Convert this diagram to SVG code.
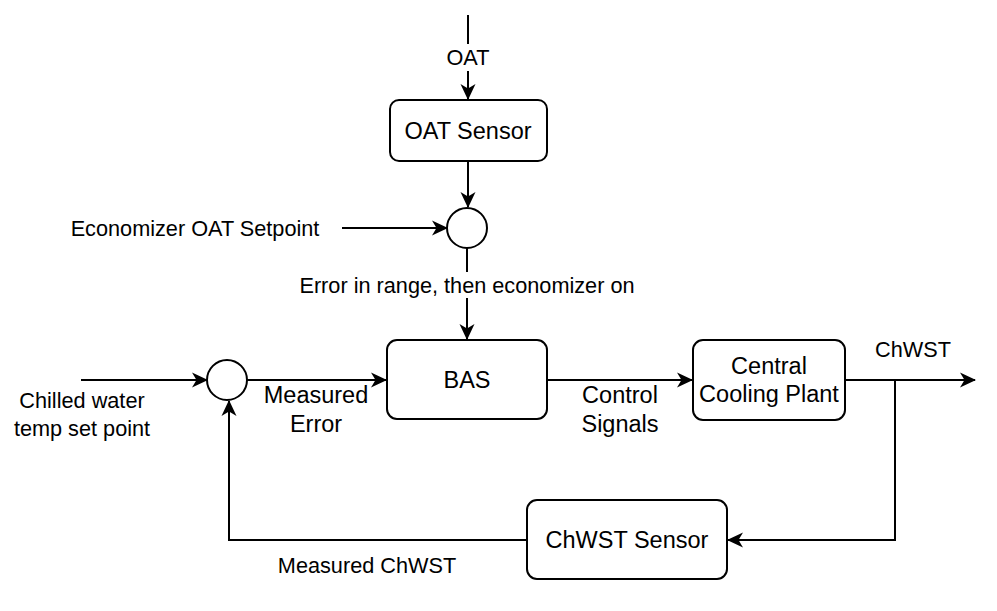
<svg xmlns="http://www.w3.org/2000/svg" width="997" height="611" viewBox="0 0 997 611">
<style>
.box{fill:#fff;stroke:#000;stroke-width:2}
.c{fill:none;stroke:#000;stroke-width:2}
.t{font-family:"Liberation Sans",Arial,sans-serif;fill:#000;text-anchor:middle;dominant-baseline:central}
.bt{font-size:23.5px}
.lt{font-size:21.7px}
</style>
<defs>
<marker id="arr" viewBox="0 0 16 16" refX="15" refY="8" markerWidth="16" markerHeight="16" markerUnits="userSpaceOnUse" orient="auto">
<path d="M0,0.5 L16,8 L0,15.5 L4.5,8 z" fill="#000"/>
</marker>
</defs>
<rect width="997" height="611" fill="#fff"/>
<g id="connectors">
<path class="c" d="M468,15 V99" marker-end="url(#arr)"/>
<path class="c" d="M468,162 V207" marker-end="url(#arr)"/>
<path class="c" d="M342,228 H447" marker-end="url(#arr)"/>
<path class="c" d="M467,248 V339" marker-end="url(#arr)"/>
<path class="c" d="M81,380 H207" marker-end="url(#arr)"/>
<path class="c" d="M247,380 H386" marker-end="url(#arr)"/>
<path class="c" d="M547,380 H692" marker-end="url(#arr)"/>
<path class="c" d="M845,380 H975" marker-end="url(#arr)"/>
<path class="c" d="M895,380 V540 H728" marker-end="url(#arr)"/>
<path class="c" d="M527,540 H229 V401" marker-end="url(#arr)"/>
</g>
<g id="labels">
<rect x="444" y="44" width="48" height="27" fill="#fff"/>
<text class="t lt" x="468" y="57">OAT</text>
<text class="t lt" x="195" y="228">Economizer OAT Setpoint</text>
<rect x="296" y="272" width="342" height="26" fill="#fff"/>
<text class="t lt" x="467" y="285">Error in range, then economizer on</text>
<text class="t lt" x="82" y="400">Chilled water</text>
<text class="t lt" x="82" y="428">temp set point</text>
<text class="t bt" x="316" y="395">Measured</text>
<text class="t bt" x="316" y="424">Error</text>
<text class="t bt" x="620" y="395">Control</text>
<text class="t bt" x="620" y="424">Signals</text>
<text class="t lt" x="913" y="349">ChWST</text>
<text class="t lt" x="367" y="565">Measured ChWST</text>
</g>
<g id="oat-sensor">
<rect class="box" x="390" y="100" width="157" height="61" rx="9"/>
<text class="t bt" x="468" y="131">OAT Sensor</text>
</g>
<g id="sum-oat">
<circle class="box" cx="467" cy="228" r="20"/>
</g>
<g id="sum-main">
<circle class="box" cx="227" cy="380" r="20"/>
</g>
<g id="bas">
<rect class="box" x="387" y="340" width="160" height="79" rx="10"/>
<text class="t bt" x="467" y="380">BAS</text>
</g>
<g id="plant">
<rect class="box" x="693" y="340" width="152" height="80" rx="10"/>
<text class="t bt" x="769" y="366">Central</text>
<text class="t bt" x="769" y="394">Cooling Plant</text>
</g>
<g id="chwst-sensor">
<rect class="box" x="527" y="500" width="200" height="79" rx="10"/>
<text class="t bt" x="627" y="540">ChWST Sensor</text>
</g>
</svg>
